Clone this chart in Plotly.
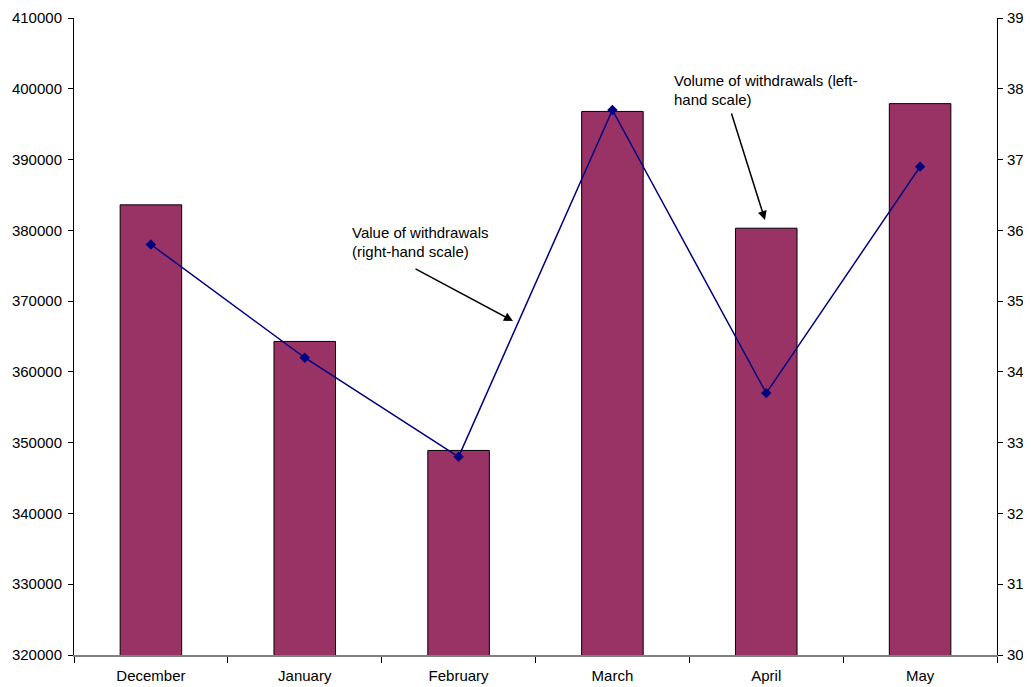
import plotly.graph_objects as go

months = ["December", "January", "February", "March", "April", "May"]
volume = [383600, 364300, 348900, 396800, 380300, 397900]
value = [35.8, 34.2, 32.8, 37.7, 33.7, 36.9]

FONT = "Liberation Sans, Arial, sans-serif"

# page body has an 8px margin: compensate
OFF = 8
W, H = 1031 - OFF, 687 - OFF
L, R, T, B = 74, 997, 18, 655  # plot area in window pixels

fig = go.Figure()
fig.add_trace(go.Bar(
    x=months, y=volume, width=0.4,
    marker=dict(color="#993366", line=dict(color="#000000", width=1)),
    yaxis="y", showlegend=False,
))
fig.add_trace(go.Scatter(
    x=months, y=value, mode="lines+markers",
    line=dict(color="#000080", width=1.5),
    marker=dict(symbol="diamond", size=8, color="#000080"),
    yaxis="y2", showlegend=False,
))

fig.update_layout(
    width=W, height=H,
    margin=dict(l=L - OFF, r=W - (R - OFF), t=T - OFF, b=H - (B - OFF), pad=0, autoexpand=False),
    paper_bgcolor="white", plot_bgcolor="white",
    font=dict(family=FONT, size=15, color="#000000"),
    xaxis=dict(
        type="category", tickson="boundaries", ticks="outside", ticklen=6,
        tickcolor="#000000", showline=True, linecolor="#808080", linewidth=2,
        showgrid=False, zeroline=False, tickfont=dict(size=15), automargin=False,
        ticklabelstandoff=6,
    ),
    yaxis=dict(
        range=[320000, 410000], dtick=10000, tick0=320000, tickformat="d",
        showline=True, linecolor="#000000", linewidth=1,
        ticks="outside", ticklen=5, tickcolor="#000000",
        showgrid=False, zeroline=False, automargin=False,
        ticklabelstandoff=3,
    ),
    yaxis2=dict(
        range=[30, 39], dtick=1, tick0=30, overlaying="y", side="right",
        showline=True, linecolor="#000000", linewidth=1,
        ticks="outside", ticklen=5, tickcolor="#000000",
        showgrid=False, zeroline=False, automargin=False,
        ticklabelstandoff=1,
    ),
    bargap=0.6,
)

def px_to_paper_x(px):
    return (px - L) / (R - L)

def px_to_paper_y(py):
    return (B - py) / (B - T)

texts = [
    ("Value of withdrawals", 350, 232),
    ("(right-hand scale)", 350, 252),
    ("Volume of withdrawals (left-", 672, 81),
    ("hand scale)", 672, 100),
]
for t, xx, yy in texts:
    fig.add_annotation(
        text=t, xref="paper", yref="paper",
        x=px_to_paper_x(xx), y=px_to_paper_y(yy),
        xanchor="left", yanchor="middle", showarrow=False,
        font=dict(size=15, color="#000000"),
    )

arrows = [
    ((513, 321), (414, 268)),
    ((765, 220), (731, 112)),
]
for (hx, hy), (tx, ty) in arrows:
    fig.add_annotation(
        text="", xref="paper", yref="paper",
        x=px_to_paper_x(hx), y=px_to_paper_y(hy),
        ax=tx - hx, ay=ty - hy, axref="pixel", ayref="pixel",
        showarrow=True, arrowhead=2, arrowsize=1.2, arrowwidth=1.5,
        arrowcolor="#000000",
    )

fig.write_html("out.html")
